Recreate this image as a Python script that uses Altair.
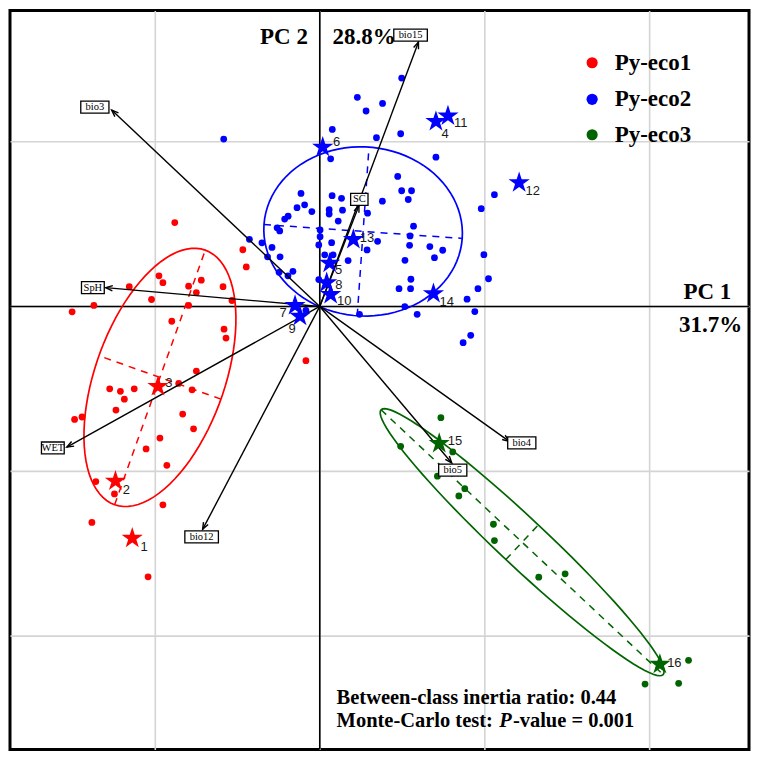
import altair as alt
import pandas as pd

groups = ["Py-eco1", "Py-eco2", "Py-eco3"]
colors = ["#ff0000", "#0000ff", "#006400"]

# ---- individual scores (grid unit = 1) ----
red_x = [-0.880, -0.467, -0.446, -0.976, -0.952, -0.719, -0.796, -0.749, -0.587, -1.156,
         -1.021, -0.533, -1.371, -1.503, -0.796, -0.898, -0.581, -0.569, -0.084, -0.749,
         -1.275, -1.210, -1.126, -1.186, -1.237, -1.488, -1.443, -0.856, -0.775, -0.832,
         -0.766, -0.970, -1.054, -0.928, -1.359, -1.246, -0.952, -1.383, -1.042]
red_y = [0.509, 0.344, 0.240, 0.186, 0.144, 0.159, 0.123, 0.084, 0.120, 0.120,
         0.042, 0.036, 0.006, -0.033, 0.006, -0.090, -0.138, -0.192, -0.329, -0.392,
         -0.500, -0.515, -0.500, -0.563, -0.629, -0.686, -0.671, -0.467, -0.506, -0.653,
         -0.743, -0.799, -0.865, -0.964, -1.063, -1.138, -1.204, -1.311, -1.641]

blue_x = [-0.583, 0.228, 0.281, 0.381, 0.497, 0.076, 0.344, 0.491, 0.705, 0.066,
          -0.114, 0.075, 0.132, 0.380, 0.473, 0.497, 0.557, 0.537, 1.060, 0.980,
          -0.138, -0.092, -0.048, 0.057, 0.057, 0.138, 0.112, 0.290, -0.192, -0.213,
          0.569, -0.259, -0.243, 0.002, 0.002, 0.548, -0.006, 0.072, 0.351, 0.287,
          0.545, 0.668, 0.746, 0.696, 0.996, -0.427, -0.351, -0.290, -0.317, -0.241,
          0.030, 0.081, 0.172, 0.517, 1.024, -0.247, -0.163, -0.193, -0.006, 0.553,
          0.481, 0.551, 0.960, 0.894, 0.516, 0.591, 0.941, 0.916, 0.870, 0.241,
          -0.084]
blue_y = [1.016, 1.269, 1.186, 1.232, 1.386, 1.074, 1.024, 1.048, 0.906, 0.896,
          0.686, 0.672, 0.656, 0.639, 0.789, 0.702, 0.702, 0.649, 0.678, 0.593,
          0.599, 0.617, 0.576, 0.587, 0.561, 0.584, 0.518, 0.566, 0.548, 0.530,
          0.487, 0.477, 0.458, 0.464, 0.423, 0.428, 0.373, 0.387, 0.395, 0.343,
          0.371, 0.363, 0.341, 0.296, 0.314, 0.407, 0.386, 0.358, 0.301, 0.301,
          0.313, 0.313, 0.278, 0.280, 0.168, 0.207, 0.213, 0.186, 0.163, 0.165,
          0.108, 0.108, 0.108, 0.044, -0.001, -0.048, -0.031, -0.175, -0.220, -0.048,
          -0.024]

green_x = [0.735, 0.491, 0.807, 0.714, 0.880, 0.844, 1.054, 1.060, 1.329, 1.489,
           2.238, 2.178, 1.974, 0.725, 2.064]
green_y = [-0.675, -0.849, -0.883, -1.030, -1.106, -1.150, -1.322, -1.421, -1.643, -1.623,
           -2.148, -2.287, -2.292, -0.832, -2.172]

# ---- populations (stars) ----
star_id = [str(i) for i in range(1, 17)]
star_group = ["Py-eco1"] * 3 + ["Py-eco2"] * 11 + ["Py-eco3"] * 2
star_x = [-1.138, -1.240, -0.982, 0.705, 0.060, 0.018, -0.150, 0.042, -0.120, 0.066,
          0.778, 1.210, 0.204, 0.690, 0.725, 2.064]
star_y = [-1.407, -1.060, -0.485, 1.122, 0.263, 0.967, 0.006, 0.144, -0.060, 0.072,
          1.156, 0.751, 0.407, 0.078, -0.832, -2.172]
star_lab_x = [-1.066, -1.174, -0.916, 0.760, 0.114, 0.102, -0.222, 0.116, -0.168, 0.148,
              0.856, 1.293, 0.287, 0.771, 0.820, 2.152]
star_lab_y = [-1.461, -1.114, -0.467, 1.046, 0.222, 0.996, -0.042, 0.130, -0.136, 0.034,
              1.112, 0.699, 0.413, 0.024, -0.814, -2.162]

# ---- environmental variables (arrows) ----
var_names = ["bio3", "bio15", "SpH", "SC", "WET", "bio12", "bio4", "bio5"]
var_x = [-1.263, 0.599, -1.299, 0.238, -1.535, -0.711, 1.150, 0.801]
var_y = [1.192, 1.605, 0.114, 0.613, -0.854, -1.353, -0.819, -0.950]
var_lab_x = [-1.365, 0.551, -1.377, 0.240, -1.620, -0.717, 1.226, 0.807]
var_lab_y = [1.210, 1.647, 0.114, 0.650, -0.859, -1.399, -0.828, -0.994]

# ---- class ellipses ----
ell_cx = [-0.970, 0.263, 1.228]
ell_cy = [-0.431, 0.455, -1.431]
ell_a = [0.820, 0.603, 1.174]
ell_b = [0.393, 0.513, 0.144]
ell_angle = [70.4, -4.0, -43.2]

# ---- legend entries ----
legend_x = [1.653, 1.653, 1.653]
legend_y = [1.479, 1.257, 1.042]
legend_text_x = [1.790, 1.790, 1.790]

# ---------------------------------------------------------------
pts = pd.DataFrame({
    "x": red_x + blue_x + green_x,
    "y": red_y + blue_y + green_y,
    "group": ["Py-eco1"] * len(red_x) + ["Py-eco2"] * len(blue_x) + ["Py-eco3"] * len(green_x),
})
stars = pd.DataFrame({"id": star_id, "group": star_group, "x": star_x, "y": star_y,
                      "lx": star_lab_x, "ly": star_lab_y})
vars_df = pd.DataFrame({"name": var_names, "x": var_x, "y": var_y,
                        "lx": var_lab_x, "ly": var_lab_y})
ell = pd.DataFrame({"group": groups, "cx": ell_cx, "cy": ell_cy, "a": ell_a,
                    "b": ell_b, "ang": ell_angle})
leg = pd.DataFrame({"group": groups, "x": legend_x, "y": legend_y, "tx": legend_text_x})

W = H = 740
xs = alt.Scale(domain=[-1.880, 2.605], nice=False, zero=False)
ys = alt.Scale(domain=[-2.689, 1.796], nice=False, zero=False)
xax = alt.Axis(values=[-1, 0, 1, 2], grid=True, labels=False, ticks=False, domain=False,
               title=None, gridColor="#d4d4d4", gridWidth=1.6)
yax = alt.Axis(values=[-2, -1, 0, 1], grid=True, labels=False, ticks=False, domain=False,
               title=None, gridColor="#d4d4d4", gridWidth=1.6)


def X(f):
    return alt.X(f, type="quantitative", scale=xs, axis=xax)


def Y(f):
    return alt.Y(f, type="quantitative", scale=ys, axis=yax)


cscale = alt.Scale(domain=groups, range=colors)
col = alt.Color("group:N", scale=cscale, legend=None)

zero = pd.DataFrame({"v": [0]})
hline = alt.Chart(zero).mark_rule(color="black", strokeWidth=1.6).encode(y=Y("v"))
vline = alt.Chart(zero).mark_rule(color="black", strokeWidth=1.6).encode(x=X("v"))

ell_base = alt.Chart(ell).transform_calculate(th="datum.ang * PI / 180")
outline = (
    ell_base.transform_calculate(t="sequence(0, 366, 4)")
    .transform_flatten(["t"])
    .transform_calculate(
        r="datum.t * PI / 180",
        ex="datum.cx + datum.a*cos(datum.r)*cos(datum.th) - datum.b*sin(datum.r)*sin(datum.th)",
        ey="datum.cy + datum.a*cos(datum.r)*sin(datum.th) + datum.b*sin(datum.r)*cos(datum.th)",
    )
    .mark_line(strokeWidth=1.7)
    .encode(x=X("ex"), y=Y("ey"), color=col, detail="group:N", order="t:Q")
)
major = (
    ell_base.transform_calculate(
        x1="datum.cx - datum.a*cos(datum.th)", y1="datum.cy - datum.a*sin(datum.th)",
        x2="datum.cx + datum.a*cos(datum.th)", y2="datum.cy + datum.a*sin(datum.th)")
    .mark_rule(strokeWidth=1.5, strokeDash=[7, 6])
    .encode(x=X("x1"), y=Y("y1"), x2="x2:Q", y2="y2:Q", color=col)
)
minor = (
    ell_base.transform_calculate(
        x1="datum.cx + datum.b*sin(datum.th)", y1="datum.cy - datum.b*cos(datum.th)",
        x2="datum.cx - datum.b*sin(datum.th)", y2="datum.cy + datum.b*cos(datum.th)")
    .mark_rule(strokeWidth=1.5, strokeDash=[7, 6])
    .encode(x=X("x1"), y=Y("y1"), x2="x2:Q", y2="y2:Q", color=col)
)

points = alt.Chart(pts).mark_circle(size=46, opacity=1).encode(
    x=X("x"), y=Y("y"), color=col)

arrows = (
    alt.Chart(vars_df).transform_calculate(ox="0", oy="0")
    .mark_rule(color="black", strokeWidth=1.4)
    .encode(x=X("ox"), y=Y("oy"), x2="x:Q", y2="y:Q")
)
heads = (
    alt.Chart(vars_df)
    .transform_calculate(ang="(atan2(datum.x, datum.y) * 180 / PI + 360) % 360")
    .mark_point(shape="M-0.38,1L0,0L0.38,1", filled=False, color="black", strokeWidth=1.4,
                size=190, opacity=1)
    .encode(x=X("x"), y=Y("y"), angle=alt.Angle("ang:Q", scale=None))
)

STAR = ("M0,-1L0.2245,-0.309L0.951,-0.309L0.363,0.118L0.588,0.809L0,0.382"
        "L-0.588,0.809L-0.363,0.118L-0.951,-0.309L-0.2245,-0.309Z")
star_marks = alt.Chart(stars).mark_point(shape=STAR, filled=True, size=500, opacity=1,
                                         strokeWidth=0).encode(x=X("x"), y=Y("y"), color=col)
star_text = alt.Chart(stars).mark_text(font="Liberation Sans", fontSize=13, color="#1a1a1a",
                                       align="center", baseline="middle").encode(
    x=X("lx"), y=Y("ly"), text="id:N")

boxes = (
    alt.Chart(vars_df)
    .transform_calculate(w="0.45 * length(datum.name) + 0.55")
    .transform_calculate(box="'M' + (-datum.w) + ',-1L' + datum.w + ',-1L' + datum.w + ',1L' + (-datum.w) + ',1Z'")
    .mark_point(filled=True, fill="white", stroke="black", strokeWidth=1.3, size=144, opacity=1)
    .encode(x=X("lx"), y=Y("ly"), shape=alt.Shape("box:N", scale=None))
)
box_text = alt.Chart(vars_df).mark_text(font="Liberation Serif", fontSize=10.5, color="black",
                                        align="center", baseline="middle").encode(
    x=X("lx"), y=Y("ly"), text="name:N")

leg_dots = alt.Chart(leg).mark_circle(size=125, opacity=1).encode(
    x=X("x"), y=Y("y"), color=col)
leg_text = alt.Chart(leg).mark_text(font="Liberation Serif", fontSize=23, fontWeight="bold",
                                    color="black", align="left", baseline="middle").encode(
    x=X("tx"), y=Y("y"), text="group:N")


def label(df, **kw):
    return alt.Chart(pd.DataFrame(df)).mark_text(font="Liberation Serif", color="black",
                                                 baseline="alphabetic", **kw).encode(
        x=X("x"), y=Y("y"), text="t:N")


ax_titles_r = label({"x": [-0.072, 2.497, 2.563], "y": [1.593, 0.048, -0.156],
                     "t": ["PC 2", "PC 1", "31.7%"]}, fontSize=23, fontWeight="bold", align="right")
ax_titles_l = label({"x": [0.078], "y": [1.593], "t": ["28.8%"]},
                    fontSize=23, fontWeight="bold", align="left")
stat1 = label({"x": [0.102, 0.102], "y": [-2.413, -2.551],
               "t": ["Between-class inertia ratio: 0.44", "Monte-Carlo test:"]},
              fontSize=20.5, fontWeight="bold", align="left")
stat_p = label({"x": [1.090], "y": [-2.551], "t": ["P"]},
               fontSize=20.5, fontWeight="bold", fontStyle="italic", align="left")
stat_v = label({"x": [1.172], "y": [-2.551], "t": ["-value = 0.001"]},
               fontSize=20.5, fontWeight="bold", align="left")

chart = (
    alt.layer(hline, vline, outline, major, minor, points, arrows, heads, star_marks,
              star_text, boxes, box_text, leg_dots, leg_text,
              ax_titles_r, ax_titles_l, stat1, stat_p, stat_v)
    .properties(width=W, height=H, padding=1, background="white")
    .configure_view(stroke="black", strokeWidth=3)
)

chart.save("out.html", embed_options={"renderer": "svg", "actions": False})
